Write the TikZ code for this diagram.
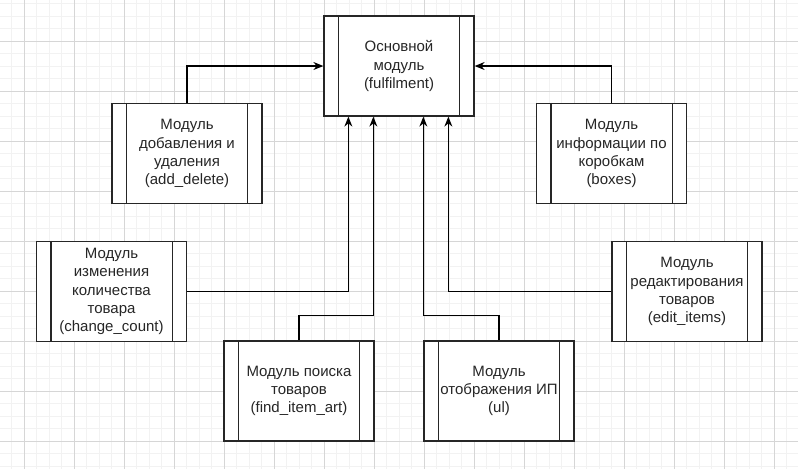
\documentclass[tikz,border=0pt]{standalone}
\usepackage{fontspec}
\setmainfont{Liberation Sans}
\usetikzlibrary{arrows.meta,calc}
\begin{document}
\begin{tikzpicture}[x=0.75pt,y=-0.75pt,
  proc/.style={draw=black!85,line width=0.95pt,fill=white,rectangle,minimum width=112.5pt,minimum height=75pt,
    align=center,font=\fontsize{11.25}{13.6}\selectfont,text=black!85,inner sep=0pt},
  conn/.style={draw=black,line width=0.95pt},
  arr/.style={conn,-{Stealth[length=7.5pt,width=6pt,inset=2.5pt]}},
  minorgrid/.style={draw=black!5,line width=0.5pt},
  majorgrid/.style={draw=black!16,line width=0.6pt}]
\useasboundingbox (0,0) rectangle (798,469);
\fill[white] (0,0) rectangle (798,469);
% grid
\foreach \i in {0,...,64} {\draw[minorgrid] ({-1+12.5*\i},0) -- ({-1+12.5*\i},469);}
\foreach \i in {0,...,38} {\draw[minorgrid] (0,{3.5+12.5*\i}) -- (798,{3.5+12.5*\i});}
\foreach \i in {0,...,16} {\draw[majorgrid] ({24+50*\i},0) -- ({24+50*\i},469);}
\foreach \i in {0,...,9} {\draw[majorgrid] (0,{41+50*\i}) -- (798,{41+50*\i});}
% nodes
\node[proc] (main) at (399,66) {Основной\\модуль\\(fulfilment)};
\node[proc] (add) at (187,153.5) {Модуль\\добавления и\\удаления\\(add\_delete)};
\node[proc] (boxes) at (611.5,153.5) {Модуль\\информации по\\коробкам\\(boxes)};
\node[proc] (change) at (111.5,291.5) {Модуль\\изменения\\количества\\товара\\(change\_count)};
\node[proc] (find) at (299,391) {Модуль поиска\\товаров\\(find\_item\_art)};
\node[proc] (ul) at (499,391) {Модуль\\отображения ИП\\(ul)};
\node[proc] (edit) at (687,291.5) {Модуль\\редактирования\\товаров\\(edit\_items)};
% inner bars
\foreach \n in {main,add,boxes,change,find,ul,edit} {
  \draw[draw=black!85,line width=0.95pt] ($(\n.north west)+(15,0)$) -- ($(\n.south west)+(15,0)$);
  \draw[draw=black!85,line width=0.95pt] ($(\n.north east)+(-15,0)$) -- ($(\n.south east)+(-15,0)$);
}
% coordinates on main bottom
\coordinate (m1) at ($(main.south west)+(25,0)$);
\coordinate (m2) at ($(main.south west)+(50,0)$);
\coordinate (m3) at ($(main.south west)+(100,0)$);
\coordinate (m4) at ($(main.south west)+(125,0)$);
% connectors
\draw[arr] (add.north) |- (main.west);
\draw[arr] (boxes.north) |- (main.east);
\draw[arr] (change.east) -| (m1);
\draw[arr] (find.north) -- ++(0,-25) -| (m2);
\draw[arr] (ul.north) -- ++(0,-25) -| (m3);
\draw[arr] (edit.west) -| (m4);
\end{tikzpicture}
\end{document}
